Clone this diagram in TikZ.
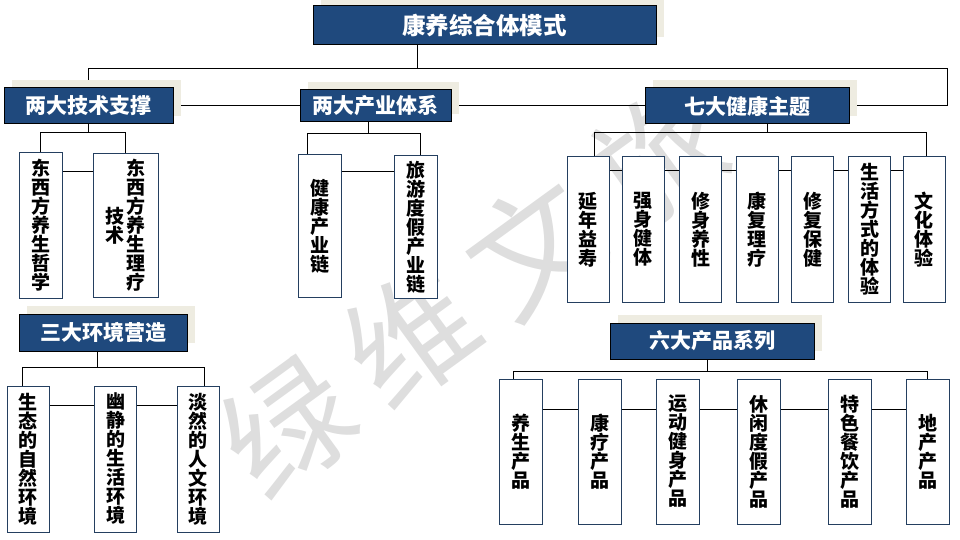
\documentclass[tikz,border=0pt]{standalone}
\usepackage{fontspec}
\setmainfont{Noto Sans CJK SC}
\usetikzlibrary{positioning,shadows}
\pgfdeclarelayer{bg}
\pgfsetlayers{bg,main}
\definecolor{hdrblue}{RGB}{31,73,125}
\definecolor{shadebeige}{RGB}{238,236,225}
\definecolor{leafline}{RGB}{36,63,96}
\newcommand{\vtxt}[1]{\begin{minipage}{1em}\centering #1\end{minipage}}
\tikzset{
  hdr/.style={draw=black,line width=1pt,fill=hdrblue,text=white,inner sep=0pt,
    font=\fontsize{21}{24}\selectfont\bfseries,
    general shadow={fill=shadebeige,shadow xshift=8pt,shadow yshift=8pt}},
  leaf/.style={draw=leafline,line width=1pt,fill=white,inner sep=0pt,
    font=\fontsize{19}{19}\selectfont\bfseries,minimum width=43pt,minimum height=145pt},
  link/.style={line width=1pt}
}

\begin{document}
\begin{tikzpicture}[x=1pt,y=-1pt]
    \useasboundingbox (0,0) rectangle (960,540);
    \node[hdr,minimum width=343pt,minimum height=39pt,font=\fontsize{23.5}{26}\selectfont\bfseries] (top) at (484.5,25.5) {康养综合体模式};
    \node[hdr,minimum width=169pt,minimum height=36pt] (tech) at (88.5,106) {两大技术支撑};
    \node[hdr,minimum width=151pt,minimum height=32pt] (ind) at (375.5,106) {两大产业体系};
    \node[hdr,minimum width=204pt,minimum height=36pt] (theme) at (747,106) {七大健康主题};
    \node[hdr,minimum width=168pt,minimum height=37pt] (env) at (103,332.5) {三大环境营造};
    \node[hdr,minimum width=204pt,minimum height=36pt] (prod) at (712,341) {六大产品系列};
    \node[leaf] (tech1) at (40.5,225.5) {\vtxt{东\\西\\方\\养\\生\\哲\\学}};
    \node[leaf,minimum width=65pt,minimum height=143pt] (tech2) at (125.5,225.5) {\vtxt{技\\术}\hspace{2pt}\vtxt{东\\西\\方\\养\\生\\理\\疗}};
    \node[leaf,minimum height=142pt] (ind1) at (320,226) {\vtxt{健\\康\\产\\业\\链}};
    \node[leaf,minimum height=142pt] (ind2) at (415.5,227) {\vtxt{旅\\游\\度\\假\\产\\业\\链}};
    \node[leaf,minimum width=42pt] (th1) at (588,229.5) {\vtxt{延\\年\\益\\寿}};
    \node[leaf,minimum width=42pt] (th2) at (643,229.5) {\vtxt{强\\身\\健\\体}};
    \node[leaf,minimum width=42pt] (th3) at (700.5,229.5) {\vtxt{修\\身\\养\\性}};
    \node[leaf,minimum width=42pt] (th4) at (757,229.5) {\vtxt{康\\复\\理\\疗}};
    \node[leaf,minimum width=42pt] (th5) at (812.5,229.5) {\vtxt{修\\复\\保\\健}};
    \node[leaf,minimum width=42pt] (th6) at (869.5,229.5) {\vtxt{生\\活\\方\\式\\的\\体\\验}};
    \node[leaf,minimum width=42pt] (th7) at (924,229.5) {\vtxt{文\\化\\体\\验}};
    \node[leaf,minimum width=42pt,minimum height=146pt] (env1) at (28,459) {\vtxt{生\\态\\的\\自\\然\\环\\境}};
    \node[leaf,minimum width=42pt,minimum height=146pt] (env2) at (115.5,459) {\vtxt{幽\\静\\的\\生\\活\\环\\境}};
    \node[leaf,minimum width=42pt,minimum height=146pt] (env3) at (198,459) {\vtxt{淡\\然\\的\\人\\文\\环\\境}};
    \node[leaf] (prod1) at (520.5,451.5) {\vtxt{养\\生\\产\\品}};
    \node[leaf] (prod2) at (599.5,451.5) {\vtxt{康\\疗\\产\\品}};
    \node[leaf] (prod3) at (678,451.5) {\vtxt{运\\动\\健\\身\\产\\品}};
    \node[leaf] (prod4) at (759,451.5) {\vtxt{休\\闲\\度\\假\\产\\品}};
    \node[leaf] (prod5) at (849.5,451.5) {\vtxt{特\\色\\餐\\饮\\产\\品}};
    \node[leaf] (prod6) at (927.5,451.5) {\vtxt{地\\产\\产\\品}};
    \begin{pgfonlayer}{bg}
    \node[text=black!13,font=\fontsize{128}{128}\selectfont,rotate=36] (mark) at (472,292) {绿\hspace{24pt}维\hspace{24pt}文\hspace{24pt}旅};
    \draw[link] ([xshift=-67.5pt]top.south) -- ++(0,24);
    \draw[link] (tech.north) |- (947,69) |- (theme.east);
    \draw[link] (tech.east) -- (ind.west);
    \draw[link] (ind.east) -- (theme.west);
    \draw[link] (tech.south) -- ++(0,8) coordinate (techbus);
    \draw[link] (tech1.north) |- (techbus) -| (tech2.north);
    \draw[link] (tech1.east |- 0,172) -- (tech2.west |- 0,172);
    \draw[link] ([xshift=-7.5pt]ind.south) -- ++(0,11) coordinate (indbus);
    \draw[link] ([xshift=-13pt]ind1.north) |- (indbus) -| ([xshift=4.5pt]ind2.north);
    \draw[link] (ind1.east |- 0,172) -- (ind2.west |- 0,172);
    \draw[link] ([xshift=20pt]theme.south) -- ++(0,8) coordinate (thbus);
    \draw[link] ([xshift=6pt]th1.north) |- (thbus) -| ([xshift=2pt]th7.north);
    \draw[link] (th1.east |- 0,171) -- (th2.west |- 0,171);
    \draw[link] (th2.east |- 0,171) -- (th3.west |- 0,171);
    \draw[link] (th3.east |- 0,171) -- (th4.west |- 0,171);
    \draw[link] (th4.east |- 0,171) -- (th5.west |- 0,171);
    \draw[link] (th5.east |- 0,171) -- (th6.west |- 0,171);
    \draw[link] (th6.east |- 0,171) -- (th7.west |- 0,171);
    \draw[link] ([xshift=-6pt]env.south) -- ++(0,16) coordinate (envbus);
    \draw[link] ([xshift=-6pt]env1.north) |- (envbus) -| ([xshift=6pt]env3.north);
    \draw[link] (env1.east |- 0,405) -- (env2.west |- 0,405);
    \draw[link] (env2.east |- 0,405) -- (env3.west |- 0,405);
    \draw[link] ([xshift=-5pt]prod.south) -- ++(0,12) coordinate (prodbus);
    \draw[link] ([xshift=-7.5pt]prod1.north) |- (prodbus) -| (prod6.north);
    \draw[link] (prod1.east |- 0,409) -- (prod2.west |- 0,409);
    \draw[link] (prod2.east |- 0,409) -- (prod3.west |- 0,409);
    \draw[link] (prod3.east |- 0,409) -- (prod4.west |- 0,409);
    \draw[link] (prod4.east |- 0,409) -- (prod5.west |- 0,409);
    \draw[link] (prod5.east |- 0,409) -- (prod6.west |- 0,409);
    \end{pgfonlayer}
\end{tikzpicture}
\end{document}
